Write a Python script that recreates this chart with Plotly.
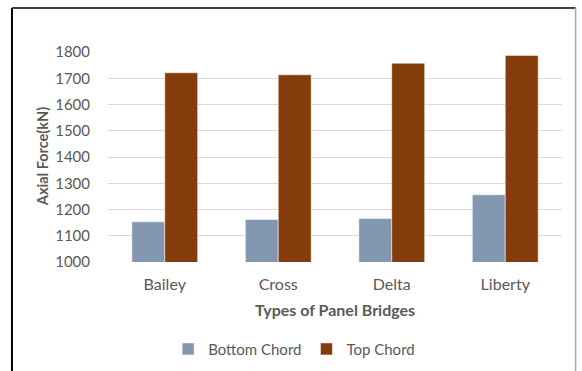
import plotly.graph_objects as go

# Axial forces in the chords of four panel bridge types
bridges = ["Bailey", "Cross", "Delta", "Liberty"]
bottom_chord = [1153, 1162, 1166, 1256]
top_chord = [1721, 1713, 1757, 1787]
y_ticks = [1000, 1100, 1200, 1300, 1400, 1500, 1600, 1700, 1800]

FONT = "Lato"
GREY = "#595959"

fig = go.Figure()
fig.add_trace(go.Bar(
    name="Bottom Chord", x=bridges, y=bottom_chord,
    marker=dict(color="#8497B0", line=dict(color="white", width=0.5)),
))
fig.add_trace(go.Bar(
    name="Top Chord", x=bridges, y=top_chord,
    marker=dict(color="#843C0C", line=dict(color="white", width=0.5)),
))

fig.update_layout(
    width=582, height=371,
    margin=dict(l=108, r=20, t=52, b=109, autoexpand=False),
    paper_bgcolor="white", plot_bgcolor="white",
    barmode="group", bargap=0.42, bargroupgap=0,
    font=dict(family=FONT, color=GREY, size=15),
    showlegend=True,
    legend=dict(orientation="h", x=0.41, xanchor="center", y=-0.415, yanchor="middle",
                font=dict(size=15, color=GREY), itemwidth=30, traceorder="normal"),
    xaxis=dict(showgrid=False, showline=False, zeroline=False, automargin=False,
               ticks="outside", ticklen=8, tickcolor="rgba(0,0,0,0)",
               tickfont=dict(size=16, color=GREY)),
    yaxis=dict(range=[1000, 1800], tickvals=y_ticks, showgrid=True, automargin=False,
               gridcolor="#D9D9D9", gridwidth=1, zeroline=False, showline=False,
               ticks="outside", ticklen=14, tickcolor="rgba(0,0,0,0)",
               tickfont=dict(size=15, color=GREY)),
    annotations=[
        dict(text="<b>Types of Panel Bridges</b>", xref="paper", yref="paper",
             x=0.5, y=-0.225, showarrow=False, font=dict(size=16, color=GREY),
             xanchor="center", yanchor="middle"),
        dict(text="<b>Axial Force(kN)</b>", xref="paper", yref="paper",
             x=-0.145, y=0.5, showarrow=False, textangle=-90,
             font=dict(size=14.5, color=GREY), xanchor="center", yanchor="middle"),
    ],
    shapes=[
        # frame around the chart
        dict(type="line", xref="paper", yref="paper", x0=-0.2115, x1=1.03,
             y0=1.2095, y1=1.2095, line=dict(color="#404040", width=2)),
        dict(type="line", xref="paper", yref="paper", x0=-0.2115, x1=-0.2115,
             y0=1.2095, y1=-0.6, line=dict(color="black", width=2)),
        dict(type="line", xref="paper", yref="paper", x0=1.03, x1=1.03,
             y0=1.2095, y1=-0.6, line=dict(color="#AAAAAA", width=1.5)),
    ],
)

fig.write_html("out.html")
